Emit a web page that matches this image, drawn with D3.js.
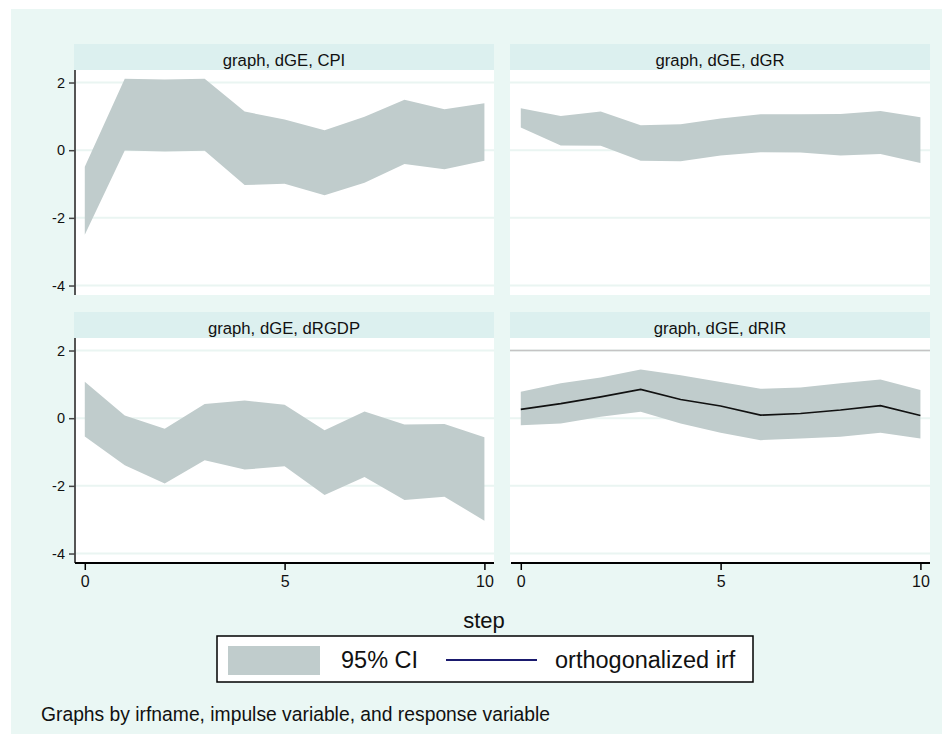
<!DOCTYPE html>
<html>
<head>
<meta charset="utf-8">
<script src="https://cdn.jsdelivr.net/npm/d3@7"></script>
<style>
  body { margin: 0; background: #ffffff; }
  svg { display: block; font-family: "Liberation Sans", Arial, sans-serif; }
</style>
</head>
<body>
<div id="chart"></div>
<script>
// impulse response: dGE -> each response, 95% CI bounds by step
const steps = [0, 1, 2, 3, 4, 5, 6, 7, 8, 9, 10];
const panelTitles = ['graph, dGE, CPI', 'graph, dGE, dGR', 'graph, dGE, dRGDP', 'graph, dGE, dRIR'];

const cpiUpper = [-0.49, 2.11, 2.09, 2.11, 1.14, 0.91, 0.59, 0.99, 1.49, 1.21, 1.39];
const cpiLower = [-2.50, -0.01, -0.04, -0.02, -1.03, -0.99, -1.33, -0.96, -0.41, -0.56, -0.31];

const dgrUpper = [1.24, 1.01, 1.14, 0.74, 0.77, 0.94, 1.06, 1.06, 1.07, 1.16, 0.97];
const dgrLower = [0.67, 0.14, 0.13, -0.31, -0.33, -0.16, -0.06, -0.07, -0.16, -0.11, -0.38];

const rgdpUpper = [1.08, 0.08, -0.31, 0.42, 0.52, 0.40, -0.36, 0.20, -0.19, -0.17, -0.56];
const rgdpLower = [-0.54, -1.39, -1.93, -1.24, -1.52, -1.42, -2.27, -1.74, -2.42, -2.32, -3.03];

const rirUpper = [0.78, 1.03, 1.20, 1.44, 1.27, 1.07, 0.87, 0.91, 1.03, 1.14, 0.83];
const rirLower = [-0.21, -0.16, 0.04, 0.19, -0.16, -0.43, -0.65, -0.60, -0.55, -0.43, -0.60];
const rirIrf = [0.26, 0.43, 0.63, 0.85, 0.55, 0.36, 0.09, 0.14, 0.24, 0.37, 0.08];
// grey horizontal line seen in the dRIR panel
const rirRefLine = [2];

const yTicks = [-4, -2, 0, 2];
const xTicks = [0, 5, 10];

const legendLabels = ['95% CI', 'orthogonalized irf'];
const xTitle = 'step';
const note = 'Graphs by irfname, impulse variable, and response variable';

const panels = [
    {title: panelTitles[0], upper: cpiUpper, lower: cpiLower, irf: null, ref: []},
    {title: panelTitles[1], upper: dgrUpper, lower: dgrLower, irf: null, ref: []},
    {title: panelTitles[2], upper: rgdpUpper, lower: rgdpLower, irf: null, ref: []},
    {title: panelTitles[3], upper: rirUpper, lower: rirLower, irf: rirIrf, ref: rirRefLine}
];

const width = 951, height = 742;
const ciColor = '#c0cccc';
const irfColor = '#1a1a6e';

const svg = d3.select('#chart')
    .append('svg')
    .attr('width', width)
    .attr('height', height);

// outer graph region
svg.append('rect')
    .attr('x', 11).attr('y', 9)
    .attr('width', 931).attr('height', 725)
    .attr('fill', '#eaf7f4');

// panel geometry
const colLeft = [74, 510];
const panelWidth = 420;
const rowTop = [44, 312];
const stripHeight = 26;
const plotHeight = 225;

const x0 = d3.scaleLinear().domain([-0.27, 10.24]);
const yBase = d3.scaleLinear().domain([-4.28, 2.37]);

panels.forEach((p, i) => {
    const col = i % 2, row = Math.floor(i / 2);
    const left = colLeft[col], top = rowTop[row];
    const plotTop = top + stripHeight, plotBottom = plotTop + plotHeight;

    const x = x0.copy().range([left, left + panelWidth]);
    const y = yBase.copy().range([plotBottom, plotTop]);

    const g = svg.append('g');

    // title strip
    g.append('rect')
        .attr('x', left).attr('y', top)
        .attr('width', panelWidth).attr('height', stripHeight)
        .attr('fill', '#dcf0ef');
    g.append('text')
        .attr('x', left + panelWidth / 2)
        .attr('y', top + 22)
        .attr('text-anchor', 'middle')
        .attr('font-size', '16.7px')
        .attr('fill', '#111')
        .text(p.title);

    // plot area
    g.append('rect')
        .attr('x', left).attr('y', plotTop)
        .attr('width', panelWidth).attr('height', plotHeight)
        .attr('fill', '#ffffff');

    // grid lines
    g.selectAll('line.grid')
        .data(yTicks)
        .join('line')
        .attr('class', 'grid')
        .attr('x1', left).attr('x2', left + panelWidth)
        .attr('y1', d => y(d)).attr('y2', d => y(d))
        .attr('stroke', '#eaf5f2')
        .attr('stroke-width', 2);

    // reference lines
    g.selectAll('line.ref')
        .data(p.ref)
        .join('line')
        .attr('class', 'ref')
        .attr('x1', left).attr('x2', left + panelWidth)
        .attr('y1', d => y(d)).attr('y2', d => y(d))
        .attr('stroke', '#c4c4c4')
        .attr('stroke-width', 1.5);

    // confidence band
    const area = d3.area()
        .x((d, j) => x(steps[j]))
        .y0((d, j) => y(p.lower[j]))
        .y1((d, j) => y(p.upper[j]));
    g.append('path')
        .datum(steps)
        .attr('d', area)
        .attr('fill', ciColor);

    // orthogonalized irf
    if (p.irf) {
        const line = d3.line()
            .x((d, j) => x(steps[j]))
            .y((d, j) => y(p.irf[j]));
        g.append('path')
            .datum(steps)
            .attr('d', line)
            .attr('fill', 'none')
            .attr('stroke', '#111')
            .attr('stroke-width', 1.6);
    }

    // y axis only on the left column
    if (col === 0) {
        const yAxis = g.append('g')
            .attr('transform', `translate(${left + 1},0)`)
            .call(d3.axisLeft(y).tickValues(yTicks).tickSize(6).tickPadding(4).tickFormat(d3.format('d')));
        yAxis.select('.domain')
            .attr('d', `M0,${plotTop}V${plotBottom}`)
            .attr('stroke', '#555').attr('stroke-width', 2);
        yAxis.selectAll('.tick line').attr('stroke', '#444').attr('stroke-width', 1.5);
        yAxis.selectAll('.tick text')
            .attr('font-size', '14.5px')
            .attr('fill', '#111')
            .text(d => d < 0 ? '-' + Math.abs(d) : d);
    }

    // x axis only on the bottom row
    if (row === 1) {
        const xAxis = g.append('g')
            .attr('transform', `translate(0,${plotBottom})`)
            .call(d3.axisBottom(x).tickValues(xTicks).tickSize(7).tickPadding(6).tickFormat(d3.format('d')));
        xAxis.select('.domain')
            .attr('d', `M${left + 1},0H${left + panelWidth}`)
            .attr('stroke', '#000').attr('stroke-width', 2.2);
        xAxis.selectAll('.tick line').attr('stroke', '#000').attr('stroke-width', 1.5);
        xAxis.selectAll('.tick text')
            .attr('font-size', '16px')
            .attr('fill', '#111');
    }
});

// x axis title
svg.append('text')
    .attr('x', 484).attr('y', 628)
    .attr('text-anchor', 'middle')
    .attr('font-size', '22px')
    .attr('fill', '#111')
    .text(xTitle);

// legend
const legend = svg.append('g');
legend.append('rect')
    .attr('x', 217).attr('y', 636)
    .attr('width', 536).attr('height', 46)
    .attr('fill', '#ffffff')
    .attr('stroke', '#000')
    .attr('stroke-width', 1.5);
legend.append('rect')
    .attr('x', 228).attr('y', 646)
    .attr('width', 92).attr('height', 29)
    .attr('fill', ciColor);
legend.append('text')
    .attr('x', 341).attr('y', 668)
    .attr('font-size', '23.5px')
    .attr('fill', '#111')
    .text(legendLabels[0]);
legend.append('line')
    .attr('x1', 446).attr('x2', 537)
    .attr('y1', 660).attr('y2', 660)
    .attr('stroke', irfColor)
    .attr('stroke-width', 2);
legend.append('text')
    .attr('x', 555).attr('y', 668)
    .attr('font-size', '23.5px')
    .attr('fill', '#111')
    .text(legendLabels[1]);

// note
svg.append('text')
    .attr('x', 41).attr('y', 721)
    .attr('font-size', '19.3px')
    .attr('fill', '#111')
    .text(note);
</script>
</body>
</html>
